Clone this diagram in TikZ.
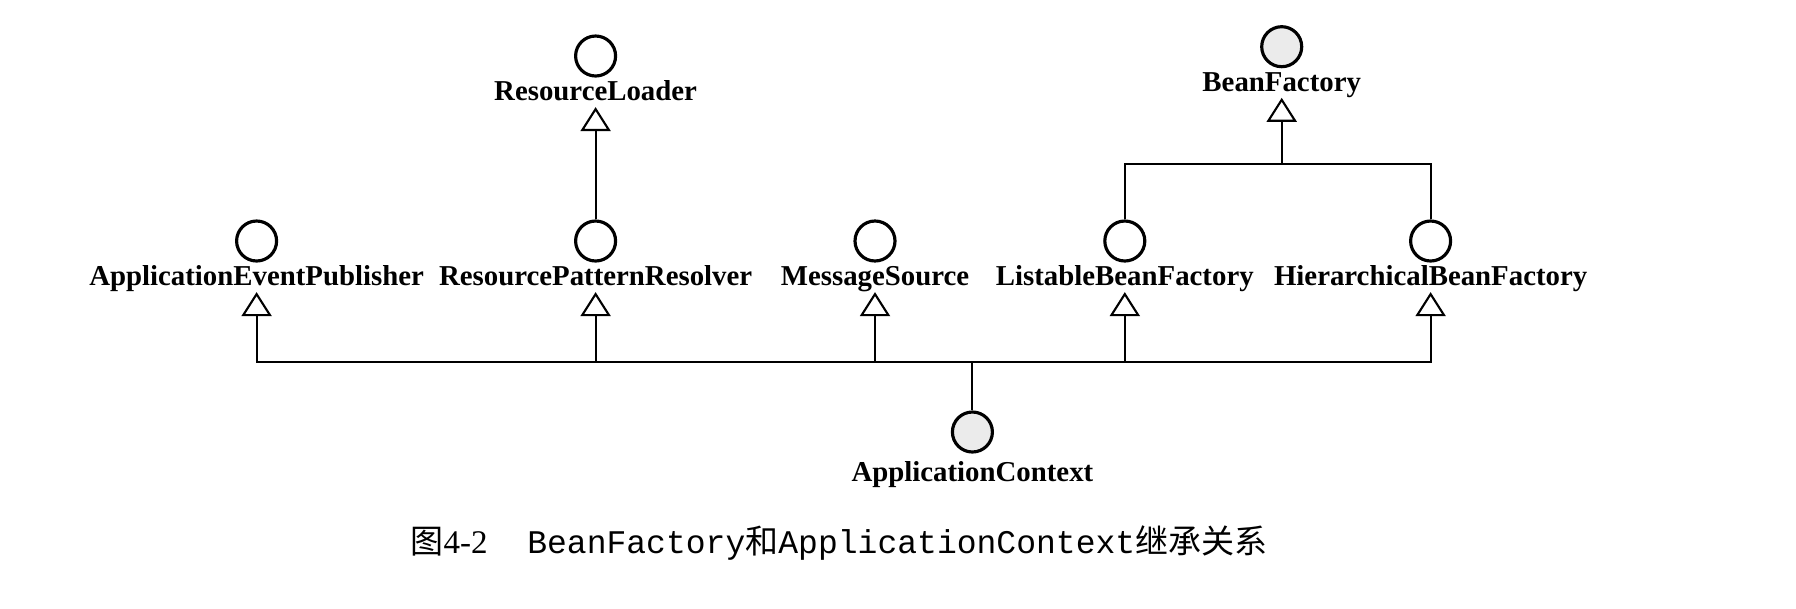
\documentclass[tikz,border=0pt]{standalone}
\usepackage{fontspec}
\setmainfont{Liberation Serif}
\setmonofont{Liberation Mono}
\newfontfamily\cjk{Noto Sans CJK SC}
\usetikzlibrary{arrows.meta, positioning, calc}
\definecolor{cfill}{HTML}{EBEBEB}
\tikzset{
  every picture/.style={line width=0.6pt},
  iface/.style={circle, draw, line width=0.9pt, minimum size=0.4cm, inner sep=0pt, fill=#1},
  iface/.default=white,
  lbl/.style={font=\fontsize{8.2}{9}\selectfont\bfseries, inner sep=0pt, text height=5.8pt, text depth=1.6pt},
  inh/.style={-{Triangle[open, length=0.24cm, width=0.3cm]}},
  caption/.style={font=\fontsize{9.4}{11}\selectfont},
}
\begin{document}
\begin{tikzpicture}
  \useasboundingbox (0,0) rectangle (17.96,6.08);
  % row of sub-interfaces
  \foreach \x/\t [count=\i] in {2.566/ApplicationEventPublisher, 5.956/ResourcePatternResolver, 8.75/MessageSource, 11.248/ListableBeanFactory, 14.306/HierarchicalBeanFactory} {
    \node[iface] (c\i) at (\x,3.67) {};
    \node[lbl, below=0.014cm of c\i] (l\i) {\t};
  }
  % top interfaces
  \node[iface] (crl) at (5.956,5.52) {};
  \node[lbl, below=0.014cm of crl] (lrl) {ResourceLoader};
  \node[iface=cfill] (cbf) at (12.817,5.613) {};
  \node[lbl, below=0.014cm of cbf] (lbf) {BeanFactory};
  % ApplicationContext
  \node[iface=cfill] (cac) at (9.724,1.76) {};
  \node[lbl, below=0.06cm of cac] (lac) {ApplicationContext};
  \coordinate (bus) at ($(cac.north)+(0,0.48)$);
  \coordinate (bfj) at ($(lbf.south)+(0,-0.66)$);
  \draw (cac) -- (bus);
  \foreach \i in {1,...,5}
    \draw[inh] (bus) -| (l\i.south);
  \draw[inh] (c2) -- (lrl.south);
  \draw[inh] (c4) |- (bfj) -- (lbf.south);
  \draw (c5) |- (bfj);
  \node[caption] (cap) at (8.39,0.65) {{\cjk 图}4-2\hspace{1.2em}\texttt{BeanFactory}{\cjk 和}\texttt{ApplicationContext}{\cjk 继承关系}};
\end{tikzpicture}
\end{document}
